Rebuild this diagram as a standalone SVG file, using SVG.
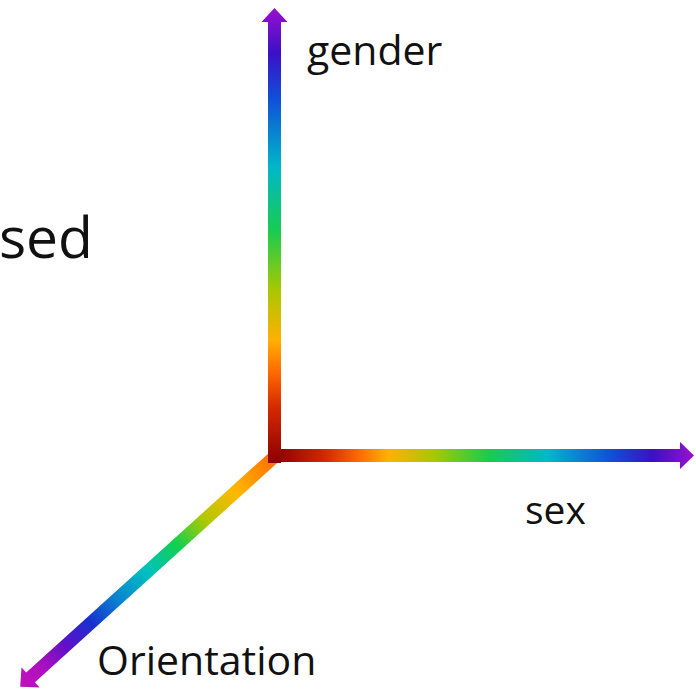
<svg xmlns="http://www.w3.org/2000/svg" width="696" height="690" viewBox="0 0 696 690">
  <defs>
    <linearGradient id="gV" gradientUnits="userSpaceOnUse" x1="0" y1="463" x2="0" y2="8">
      <stop offset="0" stop-color="#8B0000"/>
      <stop offset="0.12" stop-color="#D42800"/>
      <stop offset="0.20" stop-color="#FF6A00"/>
      <stop offset="0.27" stop-color="#FFB000"/>
      <stop offset="0.38" stop-color="#A8C800"/>
      <stop offset="0.51" stop-color="#18CC50"/>
      <stop offset="0.65" stop-color="#00B8C8"/>
      <stop offset="0.80" stop-color="#1050D8"/>
      <stop offset="0.90" stop-color="#3A10C8"/>
      <stop offset="1" stop-color="#9A10CC"/>
    </linearGradient>
    <linearGradient id="gH" gradientUnits="userSpaceOnUse" x1="275" y1="0" x2="694" y2="0">
      <stop offset="0" stop-color="#8B0000"/>
      <stop offset="0.12" stop-color="#D42800"/>
      <stop offset="0.20" stop-color="#FF6A00"/>
      <stop offset="0.27" stop-color="#FFB000"/>
      <stop offset="0.38" stop-color="#A8C800"/>
      <stop offset="0.51" stop-color="#18CC50"/>
      <stop offset="0.65" stop-color="#00B8C8"/>
      <stop offset="0.80" stop-color="#1050D8"/>
      <stop offset="0.90" stop-color="#3A10C8"/>
      <stop offset="1" stop-color="#9A10CC"/>
    </linearGradient>
    <linearGradient id="gD" gradientUnits="userSpaceOnUse" x1="0" y1="0" x2="341" y2="0">
      <stop offset="0" stop-color="#FF7000"/>
      <stop offset="0.15" stop-color="#FFB800"/>
      <stop offset="0.27" stop-color="#B0C800"/>
      <stop offset="0.38" stop-color="#10D050"/>
      <stop offset="0.50" stop-color="#00C0C0"/>
      <stop offset="0.62" stop-color="#0A80D0"/>
      <stop offset="0.72" stop-color="#1830D0"/>
      <stop offset="0.82" stop-color="#6010C8"/>
      <stop offset="0.92" stop-color="#B010C0"/>
      <stop offset="1" stop-color="#C010C0"/>
    </linearGradient>
  </defs>
  <style>
    .lbl { font-family: "Open Sans", "Noto Sans", "Liberation Sans", sans-serif; fill: #111111; }
  </style>
  <g id="connectors">
    <polygon id="axis-orientation" transform="translate(273,458) rotate(137.85)" fill="url(#gD)"
      points="0,-6.5 327,-6.5 327,-13.5 341,0 327,13.5 327,6.5 0,6.5"/>
    <polygon id="axis-sex" fill="url(#gH)"
      points="275,449 680,449 680,442 694,455.5 680,469 680,462 275,462"/>
    <polygon id="axis-gender" fill="url(#gV)"
      points="268,463 268,22 261.5,22 274.5,8 287.5,22 281,22 281,463"/>
  </g>
  <g id="label-gender"><text class="lbl" x="307" y="65" font-size="41">gender</text></g>
  <g id="label-sed"><text class="lbl" x="93" y="258" font-size="57" text-anchor="end">sed</text></g>
  <g id="label-sex"><text class="lbl" x="525" y="524" font-size="39">sex</text></g>
  <g id="label-orientation"><text class="lbl" x="97" y="675" font-size="41">Orientation</text></g>
</svg>
